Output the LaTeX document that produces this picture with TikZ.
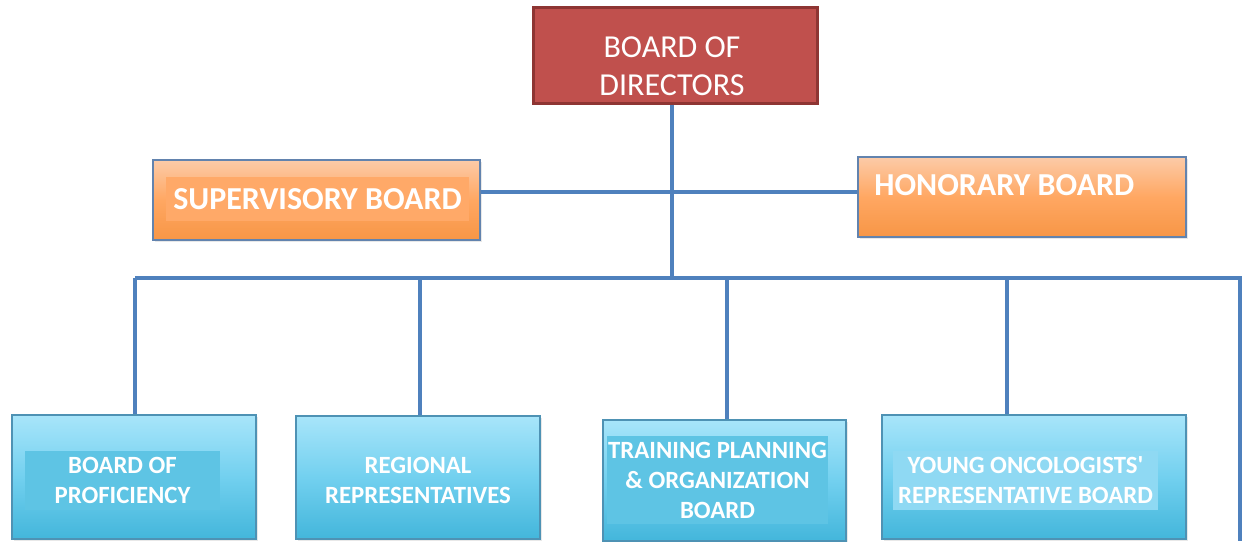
\documentclass[tikz,border=0pt]{standalone}
\usepackage{fontspec}
\setmainfont{Carlito}
\usepackage{tikz}
\usetikzlibrary{shadows}
\definecolor{linkblue}{HTML}{4F81BD}
\definecolor{dirred}{HTML}{C0504D}
\definecolor{dirborder}{HTML}{8E3533}
\definecolor{orangetop}{HTML}{FCCBA8}
\definecolor{orangemid}{HTML}{FFA762}
\definecolor{orangebot}{HTML}{F79646}
\definecolor{orangein}{HTML}{FFA968}
\definecolor{boxedge}{HTML}{6283AE}
\definecolor{cyantop}{HTML}{A8E5FA}
\definecolor{cyanmid}{HTML}{72D0EF}
\definecolor{cyanbot}{HTML}{43B6DB}
\definecolor{cyanin}{HTML}{5EC4E4}
\definecolor{cyanpale}{HTML}{8FD9F3}
\definecolor{cyanedge}{HTML}{4E92B4}

\begin{document}
\begin{tikzpicture}[
  x=0.5pt,y=-0.5pt,
  shade/.style={drop shadow={opacity=0.18,shadow xshift=1.2pt,shadow yshift=-1.2pt}},
  topbox/.style={rectangle,draw=dirborder,line width=1.5pt,fill=dirred,shade},
  sidebox/.style={rectangle,draw=boxedge,line width=0.6pt,top color=orangetop,bottom color=orangebot,
    middle color=orangemid,shade},
  unitbox/.style={rectangle,draw=cyanedge,line width=0.6pt,top color=cyantop,bottom color=cyanbot,
    middle color=cyanmid,shade},
  sidelbl/.style={text=white,font=\bfseries\fontsize{16}{19}\selectfont},
  lbl/.style={text=white,align=center,inner sep=0pt,font=\bfseries\fontsize{12.4}{15}\selectfont},
  link/.style={draw=linkblue,line width=2pt},
]
\useasboundingbox (0,0) rectangle (1242,541);

% board of directors on top
\node[topbox,minimum width=142pt,minimum height=48pt] (dir) at (675,55) {};
\node[text=white,align=center,inner sep=0pt,font=\fontsize{16}{19}\selectfont] (dirtxt) at (672,66)
  {BOARD OF\\DIRECTORS};

% the two side boards
\node[sidebox,minimum width=163.5pt,minimum height=40pt] (sup) at (316.5,200) {};
\node[sidelbl,fill=orangein,minimum width=151.5pt,minimum height=22pt] (suptxt) at (317.5,199)
  {SUPERVISORY BOARD};
\node[sidebox,minimum width=164pt,minimum height=40pt] (hon) at (1022,197) {};
\node[sidelbl,anchor=west,inner sep=0pt] (hontxt) at (874,185) {HONORARY BOARD};

% the four units along the bottom
\node[unitbox,minimum width=122pt,minimum height=62pt] (prof) at (134,477) {};
\node[unitbox,minimum width=122pt,minimum height=61.5pt] (reg) at (418,477.5) {};
\node[unitbox,minimum width=121.5pt,minimum height=60.5pt] (train) at (724.5,480.5) {};
\node[unitbox,minimum width=152pt,minimum height=62pt] (young) at (1034,477) {};

\node[lbl,fill=cyanin,minimum width=97.5pt,minimum height=29.5pt] (proftxt) at (122.5,480.5)
  {BOARD OF\\PROFICIENCY};
\node[lbl] (regtxt) at (418,480) {REGIONAL\\REPRESENTATIVES};
\node[lbl,fill=cyanin,minimum width=110.5pt,minimum height=44pt] (traintxt) at (717.5,480)
  {TRAINING PLANNING\\\& ORGANIZATION\\BOARD};
\node[lbl,fill=cyanpale,minimum width=132.5pt,minimum height=29.5pt] (youngtxt) at (1025.5,480.5)
  {YOUNG ONCOLOGISTS\textquotesingle\\REPRESENTATIVE BOARD};

% connectors
\coordinate (mid) at (672,192);
\coordinate (busL) at (135,278);
\coordinate (busR) at (1240,278);
\coordinate (busC) at (672,278);
\coordinate (edge) at (1240,541);

\draw[link] (dir.south -| mid) -- (busC);
\draw[link] (sup.east |- mid) -- (hon.west |- mid);
\draw[link] (busL) -- (busR) -- (edge);
\draw[link] (prof.north -| busL) -- (busL);
\draw[link] ([xshift=1pt]reg.north) -- ([xshift=1pt]reg.north |- busL);
\draw[link] ([xshift=1.25pt]train.north) -- ([xshift=1.25pt]train.north |- busL);
\draw[link] ([xshift=-13.5pt]young.north) -- ([xshift=-13.5pt]young.north |- busL);
\end{tikzpicture}
\end{document}
